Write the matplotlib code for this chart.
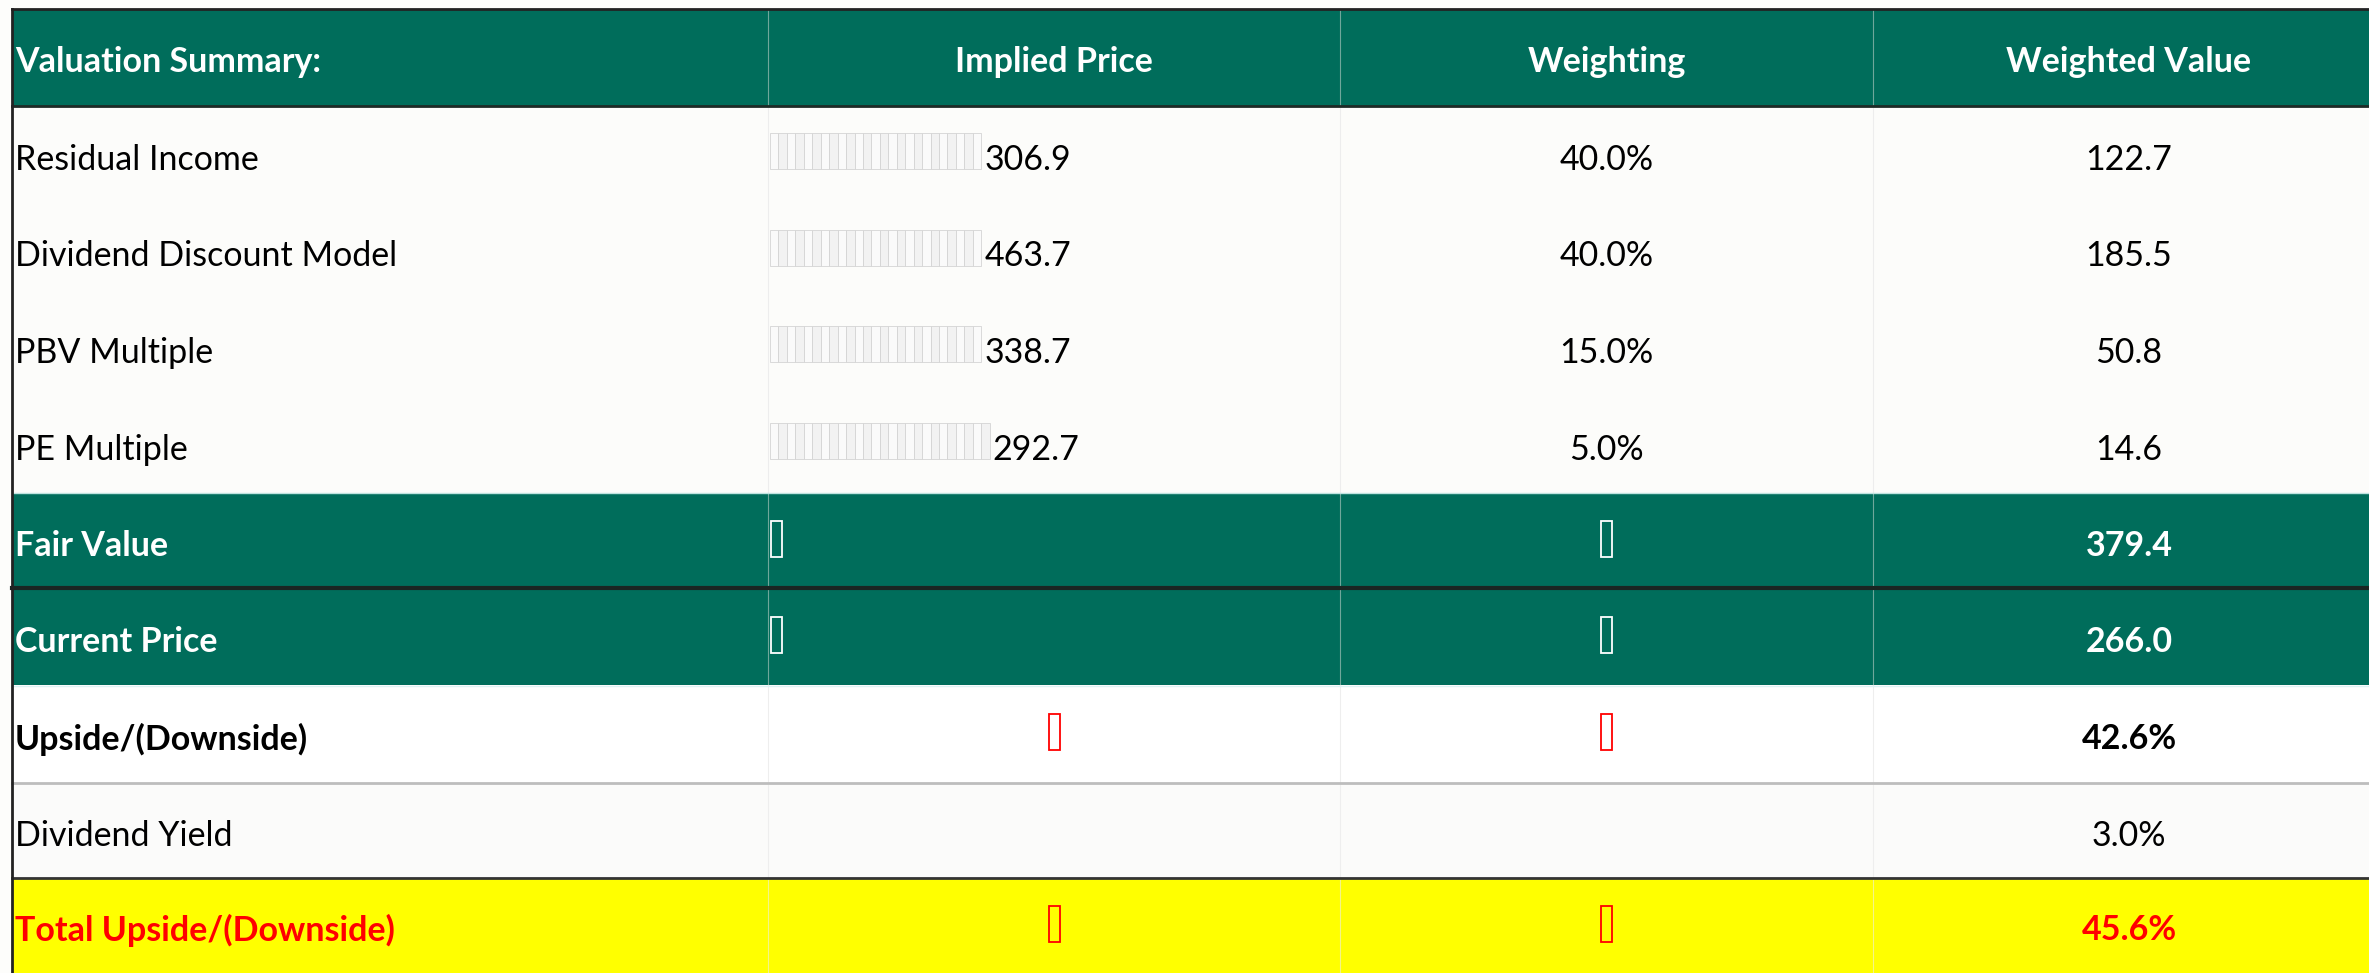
import matplotlib
matplotlib.use("Agg")
import matplotlib.pyplot as plt
from matplotlib.patches import Rectangle

plt.rcParams['font.family'] = ['Lato', 'DejaVu Sans']

# table data
headers = ["Valuation Summary:", "Implied Price", "Weighting", "Weighted Value"]
methods = ["Residual Income", "Dividend Discount Model", "PBV Multiple", "PE Multiple"]
implied_price = [306.9, 463.7, 338.7, 292.7]
weighting = [0.40, 0.40, 0.15, 0.05]
weighted_value = [122.7, 185.5, 50.8, 14.6]
fair_value = 379.4
current_price = 266.0
upside = 0.426
dividend_yield = 0.030
total_upside = 0.456

TEAL = '#006D5B'
W, H = 2369, 973
col_x = [12, 768, 1340, 1873, 2385]
row_y = [9, 106, 203, 300, 396, 493, 589, 685, 783, 878, 973]

fig = plt.figure(figsize=(W / 100, H / 100), dpi=100)
fig.patch.set_facecolor('#FDFDFB')
ax = fig.add_axes([0, 0, 1, 1])
ax.set_xlim(0, W)
ax.set_ylim(H, 0)
ax.axis('off')

def band(i, color):
    ax.add_patch(Rectangle((col_x[0], row_y[i]), col_x[-1] - col_x[0],
                           row_y[i + 1] - row_y[i], color=color, lw=0, zorder=0))

def mid(i):
    return (row_y[i] + row_y[i + 1]) / 2 + 5

def centre(c):
    return (col_x[c] + col_x[c + 1]) / 2

def tofu(x, y, color):
    # missing-glyph box as rendered in the source sheet
    ax.add_patch(Rectangle((x - 5.5, y - 22), 11, 36, fill=False, edgecolor=color,
                           lw=1.3, zorder=3))

band(0, TEAL)
for i in range(1, 5):
    band(i, '#FCFCFA')
band(5, TEAL)
band(6, TEAL)
band(7, '#FFFFFF')
band(8, '#FBFBFA')
band(9, '#FFFF00')

# vertical column lines
for c in col_x[1:-1]:
    for i in (0, 5, 6):
        ax.plot([c, c], [row_y[i], row_y[i + 1]], color='#6FA79B', lw=0.8, zorder=1)
    ax.plot([c, c], [row_y[1], row_y[5]], color='#EDEDED', lw=0.8, zorder=1)
    ax.plot([c, c], [row_y[7], row_y[9]], color='#EEEEEE', lw=0.8, zorder=1)
    ax.plot([c, c], [row_y[9], row_y[10]], color='#F4F488', lw=0.8, zorder=1)

# horizontal borders
ax.plot([col_x[0], W], [row_y[0], row_y[0]], color='#222222', lw=2, zorder=2)
ax.plot([col_x[0], W], [row_y[1], row_y[1]], color='#1E2A26', lw=2, zorder=2)
ax.plot([col_x[0], W], [row_y[5], row_y[5]], color='#BFE3E0', lw=1, zorder=2)
ax.plot([col_x[0], W], [row_y[6] - 1, row_y[6] - 1], color='#1A2522', lw=3, zorder=2)
ax.plot([col_x[0], W], [row_y[7] + 1, row_y[7] + 1], color='#DDF1F4', lw=1, zorder=2)
ax.plot([col_x[0], W], [row_y[8], row_y[8]], color='#BDBDBD', lw=2, zorder=2)
ax.plot([col_x[0], W], [row_y[9], row_y[9]], color='#333333', lw=2, zorder=2)
ax.plot([col_x[0], col_x[0]], [row_y[0], H], color='#222222', lw=2, zorder=2)

FS = 24.5
# header
ax.text(col_x[0] + 3, mid(0), headers[0], color='white', fontsize=FS, fontweight='bold', va='center')
for c in range(1, 4):
    ax.text(centre(c), mid(0), headers[c], color='white', fontsize=FS, fontweight='bold',
            va='center', ha='center')

# method rows
for k, name in enumerate(methods):
    i = k + 1
    y = mid(i)
    ax.text(col_x[0] + 3, y, name, fontsize=FS, va='center', color='black')
    # accounting-format filler boxes
    n = 25 if k < 3 else 26
    for j in range(n):
        ax.add_patch(Rectangle((col_x[1] + 2 + j * 8.45, y - 27), 8.45, 36,
                               facecolor='#F2F2F2' if j % 2 else '#FAFAFA',
                               edgecolor='#D4D4D4', lw=0.6, zorder=1))
    ax.text(col_x[1] + 2 + n * 8.45 + 3, y, f"{implied_price[k]:.1f}", fontsize=FS,
            va='center', ha='left', color='black')
    ax.text(centre(2), y, f"{weighting[k]:.1%}", fontsize=FS, va='center', ha='center')
    ax.text(centre(3), y, f"{weighted_value[k]:.1f}", fontsize=FS, va='center', ha='center')

# summary rows
summary = [
    (5, "Fair Value", f"{fair_value:.1f}", 'white', True),
    (6, "Current Price", f"{current_price:.1f}", 'white', True),
    (7, "Upside/(Downside)", f"{upside:.1%}", 'black', True),
    (8, "Dividend Yield", f"{dividend_yield:.1%}", 'black', False),
    (9, "Total Upside/(Downside)", f"{total_upside:.1%}", '#FF0000', True),
]
for i, label, val, col, bold in summary:
    w = 'bold' if bold else 'normal'
    ax.text(col_x[0] + 3, mid(i), label, fontsize=FS, fontweight=w, color=col, va='center')
    ax.text(centre(3), mid(i), val, fontsize=FS, fontweight=w, color=col, va='center', ha='center')
    if i in (5, 6):
        tofu(col_x[1] + 8, mid(i) - 3, 'white')
        tofu(centre(2), mid(i) - 3, 'white')
    elif i in (7, 9):
        tofu(centre(1), mid(i) - 3, '#FF0000')
        tofu(centre(2), mid(i) - 3, '#FF0000')

fig.savefig("out.png", dpi=100, facecolor=fig.get_facecolor())
